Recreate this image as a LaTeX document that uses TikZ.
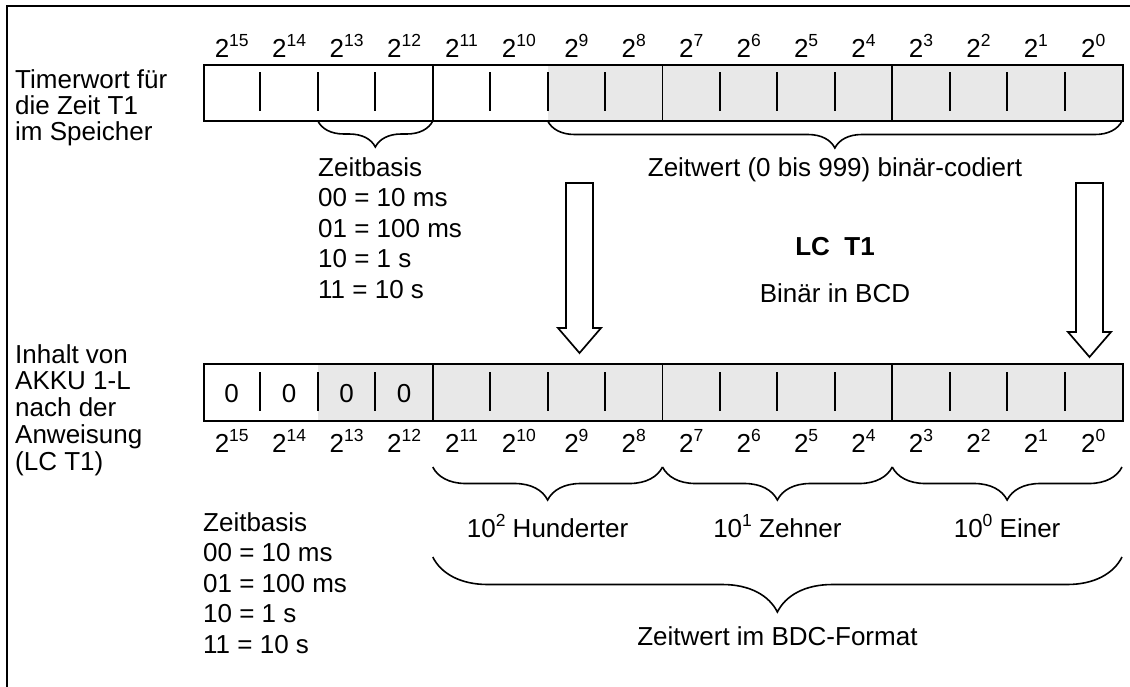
\documentclass[tikz,border=0pt]{standalone}
\usepackage{fontspec}
\setmainfont{Liberation Sans}
\usetikzlibrary{decorations.pathreplacing}
\definecolor{cellshade}{RGB}{232,232,232}
\newcommand\supnum[2]{#1\raisebox{0.42em}{\fontsize{17.5}{17.5}\selectfont #2}}
\begin{document}
\begin{tikzpicture}[x=1pt,y=-1pt,
  txt/.style={inner sep=0pt, font=\fontsize{26}{30}\selectfont},
  lbl/.style={inner sep=0pt, align=left, anchor=base west, font=\fontsize{26}{#1}\selectfont},
  regbox/.style={draw, line width=1.9pt, minimum width=919pt, anchor=north west, inner sep=0pt},
  tick/.style={line width=1.9pt},
  grp/.style={line width=1.9pt},
  brc/.style={decorate, decoration={brace, mirror, amplitude=#1}, line width=1.6pt},
  blockarrow/.style={draw, line width=1.7pt, fill=white, line join=miter}
]
\useasboundingbox (0,0) rectangle (1130,686);
% frame
\draw[line width=1.6pt] (7,700) -- (7,6) -- (1140,6);

% ---------- top register ----------
\fill[cellshade] (547.75,64) rectangle (1122,120);
\node[regbox, minimum height=56pt] (topreg) at (203,64) {};
\foreach \i in {1,2,3,5,6,7,9,10,11,13,14,15}{
  \pgfmathsetmacro\bx{203+\i*57.4375}
  \draw[tick] (\bx,72) -- (\bx,111);
}
\foreach \i in {4,8,12}{
  \pgfmathsetmacro\bx{203+\i*57.4375}
  \draw[grp] (\bx,64) -- (\bx,120);
}
\foreach \e [count=\i from 0] in {15,14,...,0}{
  \pgfmathsetmacro\cx{203+(\i+0.5)*57.4375}
  \node[txt, anchor=base] (tl\e) at (\cx,57) {\supnum{2}{\e}};
}

% ---------- bottom register ----------
\fill[cellshade] (317.875,363) rectangle (1122,420);
\node[regbox, minimum height=57pt] (botreg) at (203,363) {};
\foreach \i in {1,2,3,5,6,7,9,10,11,13,14,15}{
  \pgfmathsetmacro\bx{203+\i*57.4375}
  \draw[tick] (\bx,372) -- (\bx,411);
}
\foreach \i in {4,8,12}{
  \pgfmathsetmacro\bx{203+\i*57.4375}
  \draw[grp] (\bx,363) -- (\bx,420);
}
\foreach \e [count=\i from 0] in {15,14,...,0}{
  \pgfmathsetmacro\cx{203+(\i+0.5)*57.4375}
  \node[txt, anchor=base] (bl\e) at (\cx,452) {\supnum{2}{\e}};
}
\foreach \i in {0,1,2,3}{
  \pgfmathsetmacro\cx{203+(\i+0.5)*57.4375}
  \node[txt, anchor=base] (zero\i) at (\cx,402) {0};
}

% ---------- left labels (anchored at the baseline of the last line) ----------
\node[lbl=26] (timer) at (15,140) {Timerwort für\\die Zeit T1\\im Speicher};
\node[lbl=26.7] (akku) at (15,470) {Inhalt von\\AKKU 1-L\\nach der\\Anweisung\\(LC T1)};

% ---------- top braces and texts ----------
\draw[brc=26] (317.875,121) -- (432.75,121);
\draw[brc=27] (547.75,121) -- (1122,121);
\node[lbl=30.5] (zb1) at (318,298) {Zeitbasis\\00 = 10 ms\\01 = 100 ms\\10 = 1 s\\11 = 10 s};
\node[txt, anchor=base] (zw1) at (835,176) {Zeitwert (0 bis 999) binär-codiert};

% ---------- middle ----------
\node[txt, anchor=base, font=\fontsize{26}{30}\selectfont\bfseries] (lc) at (835,255) {LC\ \ T1};
\node[txt, anchor=base] (bin) at (835,302) {Binär in BCD};
\draw[blockarrow] (566,183) -- (593,183) -- (593,328) -- (601,328) -- (579.5,353) -- (558,328) -- (566,328) -- cycle;
\draw[blockarrow] (1076,183) -- (1103,183) -- (1103,332) -- (1111,332) -- (1089.5,357) -- (1068,332) -- (1076,332) -- cycle;

% ---------- bottom braces and texts ----------
\draw[brc=33] (432.75,467) -- (662.5,467);
\draw[brc=33] (662.5,467) -- (892.25,467);
\draw[brc=33] (892.25,467) -- (1122,467);
\node[txt, anchor=base] (hun) at (547.6,537) {\supnum{10}{2} Hunderter};
\node[txt, anchor=base] (zeh) at (777.4,537) {\supnum{10}{1} Zehner};
\node[txt, anchor=base] (ein) at (1007.1,537) {\supnum{10}{0} Einer};
\draw[brc=55] (432.75,557) -- (1122,557);
\node[txt, anchor=base] (bcd) at (777.4,645) {Zeitwert im BDC-Format};
\node[lbl=30.5] (zb2) at (203,653) {Zeitbasis\\00 = 10 ms\\01 = 100 ms\\10 = 1 s\\11 = 10 s};
\end{tikzpicture}
\end{document}
